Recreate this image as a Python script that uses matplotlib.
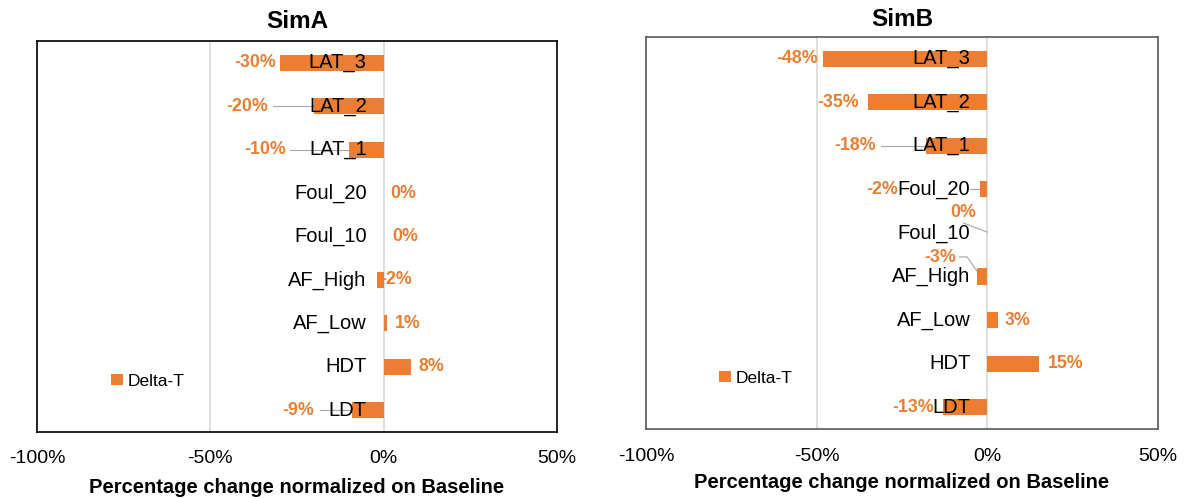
import matplotlib
matplotlib.use("Agg")
import matplotlib.pyplot as plt
from matplotlib.patches import Patch

plt.rcParams["font.family"] = ["Liberation Sans", "DejaVu Sans"]

# categories, top to bottom as shown
categories = ["LAT_3", "LAT_2", "LAT_1", "Foul_20", "Foul_10", "AF_High", "AF_Low", "HDT", "LDT"]
sim_a = [-30, -20, -10, 0, 0, -2, 1, 8, -9]
sim_b = [-48, -35, -18, -2, 0, -3, 3, 15, -13]
x_ticks = [-100, -50, 0, 50]

# data label placement (x centre in %, vertical shift in rows)
label_x_a = [-37.2, -39.3, -34.3, 5.5, 6.3, 3.7, 6.9, 13.8, -24.8]
label_dy_a = [0, 0, 0, 0, 0, 0, 0, 0, 0]
label_x_b = [-55.7, -43.7, -38.7, -30.9, -7.0, -13.8, 8.8, 22.9, -21.7]
label_dy_b = [0, 0, 0, 0, -0.46, -0.43, 0, 0, 0]

# leader lines: category index -> list of (x, dy) points
leaders_a = {1: [(-32, 0), (-20, 0)], 2: [(-27.1, 0), (-10, 0)], 8: [(-18.4, 0), (-9, 0)]}
leaders_b = {2: [(-31.1, 0), (-18, 0)], 3: [(-5, 0), (-2, 0)],
             4: [(-7, -0.23), (0, -0.02)],
             5: [(-8.2, -0.45), (-5.9, -0.45), (-2.6, -0.08)]}

ORANGE = "#ED7D31"


def draw_panel(ax, title, values, lab_x, lab_dy, leaders, edge, title_pad, tick_pad, xlabel_pad):
    y = list(range(len(categories)))
    ax.set_xlim(-100, 50)
    ax.set_ylim(len(categories) - 0.5, -0.5)
    for gx in x_ticks:
        ax.axvline(gx, color="#d9d9d9", lw=1.2, zorder=0)
    ax.barh(y, values, height=0.37, color=ORANGE, zorder=2)

    for i, cat in enumerate(categories):
        ax.annotate(cat, xy=(0, i), xytext=(-12.2, 0), textcoords="offset points",
                    ha="right", va="center", fontsize=14.5, color="black", zorder=3)
        ax.text(lab_x[i], i + lab_dy[i], f"{values[i]}%", ha="center", va="center",
                fontsize=12.8, fontweight="bold", color=ORANGE, zorder=4)
    for i, pts in leaders.items():
        ax.plot([p[0] for p in pts], [i + p[1] for p in pts], color="#a6a6a6",
                lw=0.8, zorder=1)

    ax.set_xticks(x_ticks)
    ax.set_xticklabels([f"{t}%" for t in x_ticks])
    ax.set_yticks([])
    ax.tick_params(axis="x", length=0, pad=tick_pad, labelsize=14)
    for s in ax.spines.values():
        s.set_color(edge)
        s.set_linewidth(1.2)
    ax.set_title(title, fontsize=17.5, fontweight="bold", pad=title_pad)
    ax.set_xlabel("Percentage change normalized on Baseline", fontsize=14.5,
                  fontweight="bold", labelpad=xlabel_pad)
    ax.legend(handles=[Patch(facecolor=ORANGE, label="Delta-T")], loc="center left",
              bbox_to_anchor=(0.113, 0.13), frameon=False, fontsize=12.5,
              handlelength=0.65, handleheight=0.65, handletextpad=0.3)


fig = plt.figure(figsize=(11.85, 4.98), dpi=100)
ax_a = fig.add_axes([0.0312, 0.1325, 0.4388, 0.7851])
ax_b = fig.add_axes([0.5451, 0.1386, 0.4321, 0.7871])

draw_panel(ax_a, "SimA", sim_a, label_x_a, label_dy_a, leaders_a, "black", 9.5, 13, 8)
draw_panel(ax_b, "SimB", sim_b, label_x_b, label_dy_b, leaders_b, "#595959", 8, 14, 5.5)

fig.savefig("out.png", dpi=100)
